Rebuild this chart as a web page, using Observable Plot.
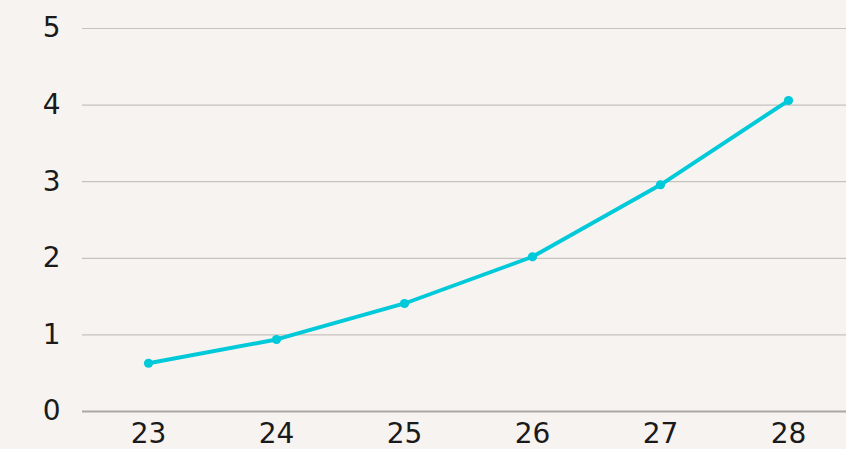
<!DOCTYPE html>
<html>
<head>
<meta charset="utf-8">
<script src="https://cdn.jsdelivr.net/npm/d3@7"></script>
<script src="https://cdn.jsdelivr.net/npm/@observablehq/plot@0.6"></script>
<style>
  html, body { margin: 0; padding: 0; background: #f6f3f0; }
  #chart { width: 846px; height: 449px; overflow: hidden; }
</style>
</head>
<body>
<div id="chart"></div>
<script>
const categories = ["23", "24", "25", "26", "27", "28"];
const values = [0.63, 0.94, 1.41, 2.02, 2.96, 4.06];
const yTicks = [0, 1, 2, 3, 4, 5];

const data = categories.map((c, i) => ({cat: c, value: values[i]}));

const chart = Plot.plot({
  width: 846,
  height: 449,
  marginLeft: 82,
  marginRight: 0,
  marginTop: 28,
  marginBottom: 38,
  style: {background: "#f6f3f0", fontFamily: "'DejaVu Sans', sans-serif", fontSize: "28px", color: "#111"},
  x: {type: "point", domain: categories, padding: 0.5, range: [82, 854], label: null},
  y: {domain: [0, 5], label: null},
  marks: [
    Plot.ruleY(yTicks.filter(d => d > 0), {stroke: "#c6c2be", strokeWidth: 1.2}),
    Plot.ruleY([0], {stroke: "#a9a7a5", strokeWidth: 2}),
    Plot.axisY(yTicks, {tickSize: 0, tickPadding: 22, fontSize: 28, fill: "#1a1a1a", tickFormat: d3.format("d")}),
    Plot.axisX(categories, {tickSize: 0, tickPadding: 12, fontSize: 28, fill: "#1a1a1a"}),
    Plot.line(data, {x: "cat", y: "value", stroke: "#00c9da", strokeWidth: 3.9}),
    Plot.dot(data, {x: "cat", y: "value", fill: "#00c9da", r: 4.6})
  ]
});
document.getElementById("chart").appendChild(chart);
</script>
</body>
</html>
